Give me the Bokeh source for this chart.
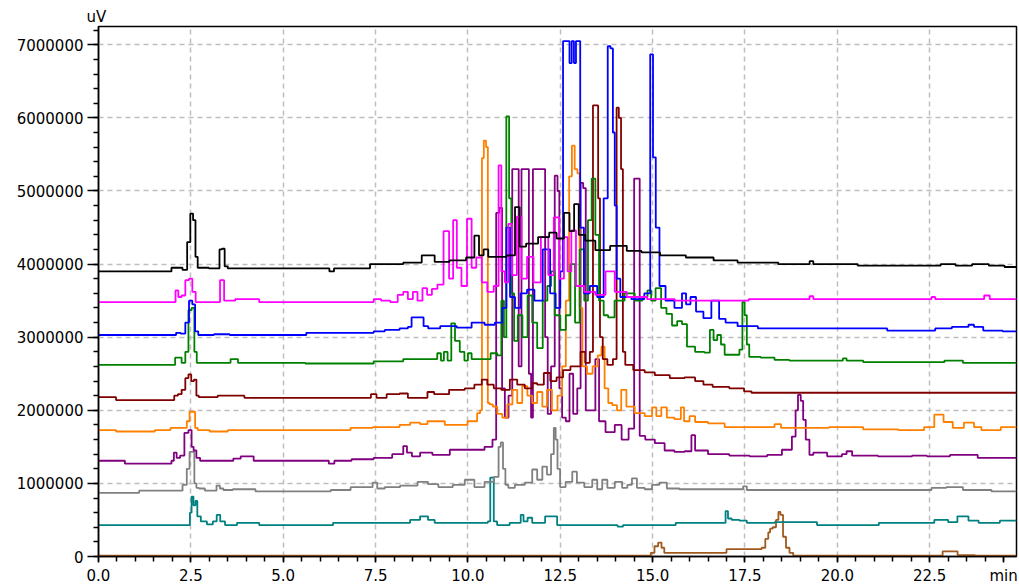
from bokeh.plotting import figure
from bokeh.models import (Range1d, SingleIntervalTicker, FixedTicker, PrintfTickFormatter, Title)
from bokeh.embed import file_html
from bokeh.resources import INLINE

# ---- chromatogram traces: retention time (min) and detector signal (uV) ----
black_min = [0.0, 1.9, 2.05, 2.2, 2.35, 2.45, 2.52, 2.6, 2.65, 2.72, 3.25, 3.3, 3.38, 3.45, 3.55,
             6.2, 6.3, 6.45, 7.3, 7.4, 8.0, 8.5, 9.0, 9.2, 9.8, 10.1, 10.25, 10.35, 10.5, 10.6,
             10.9, 11.2, 11.35, 11.45, 11.7, 12.1, 12.3, 12.5, 12.7, 12.8, 12.95, 13.05, 13.3,
             13.6, 14.1, 14.5, 14.9, 15.5, 16.3, 17.0, 17.6, 19.2, 19.3, 19.4, 21.7, 22.5, 23.1,
             23.3, 24.0, 24.2, 24.85]
black_uv = [3.90e6, 3.90e6, 3.95e6, 3.95e6, 3.92e6, 4.30e6, 4.69e6, 4.60e6, 4.10e6, 3.95e6, 3.94e6,
            4.20e6, 4.21e6, 3.97e6, 3.94e6, 3.94e6, 3.90e6, 3.94e6, 3.94e6, 4.00e6, 4.00e6, 4.02e6,
            4.12e6, 4.03e6, 4.05e6, 4.09e6, 4.39e6, 4.12e6, 4.20e6, 4.10e6, 4.10e6, 4.12e6, 4.78e6,
            4.24e6, 4.28e6, 4.37e6, 4.43e6, 4.35e6, 4.70e6, 4.45e6, 4.82e6, 4.40e6, 4.32e6, 4.19e6,
            4.25e6, 4.18e6, 4.16e6, 4.12e6, 4.09e6, 4.05e6, 4.02e6, 4.00e6, 4.04e6, 4.00e6, 3.98e6,
            3.98e6, 4.00e6, 3.98e6, 4.00e6, 3.98e6, 3.96e6]

magenta_min = [0.0, 2.05, 2.12, 2.2, 2.3, 2.4, 2.5, 2.58, 2.68, 3.28, 3.3, 3.38, 3.42, 3.6, 3.8,
               4.3, 4.4, 7.4, 7.5, 7.8, 8.0, 8.2, 8.3, 8.45, 8.57, 8.7, 8.84, 8.95, 9.1, 9.25,
               9.43, 9.55, 9.65, 9.75, 9.9, 10.05, 10.15, 10.3, 10.45, 10.6, 10.8, 10.86, 10.95,
               11.05, 11.14, 11.25, 11.4, 11.5, 11.7, 11.85, 12.1, 12.25, 12.4, 12.55, 12.65,
               12.75, 12.85, 13.0, 13.3, 13.6, 13.85, 14.1, 14.5, 15.2, 16.0, 19.2, 19.3, 19.4,
               22.5, 22.6, 22.7, 23.9, 24.05, 24.2, 24.85]
magenta_uv = [3.48e6, 3.48e6, 3.64e6, 3.55e6, 3.57e6, 3.78e6, 3.80e6, 3.62e6, 3.48e6, 3.48e6, 3.78e6,
              3.78e6, 3.50e6, 3.50e6, 3.52e6, 3.52e6, 3.48e6, 3.48e6, 3.52e6, 3.50e6, 3.48e6, 3.58e6,
              3.62e6, 3.52e6, 3.62e6, 3.50e6, 3.67e6, 3.58e6, 3.66e6, 3.72e6, 4.45e6, 3.80e6, 4.60e6,
              3.95e6, 3.70e6, 4.62e6, 3.95e6, 4.09e6, 3.75e6, 3.62e6, 3.70e6, 5.35e6, 3.90e6, 3.75e6,
              4.55e6, 3.85e6, 4.65e6, 3.80e6, 4.10e6, 3.75e6, 4.37e6, 3.85e6, 4.64e6, 3.80e6, 4.37e6,
              3.90e6, 4.46e6, 3.70e6, 3.62e6, 3.58e6, 3.90e6, 3.62e6, 3.55e6, 3.52e6, 3.50e6, 3.52e6,
              3.56e6, 3.52e6, 3.52e6, 3.55e6, 3.52e6, 3.52e6, 3.57e6, 3.52e6, 3.52e6]

blue_min = [0.0, 2.05, 2.15, 2.3, 2.4, 2.5, 2.58, 2.65, 2.75, 3.5, 3.6, 5.6, 5.65, 7.4, 7.5, 8.0,
            8.3, 8.45, 8.5, 8.75, 8.85, 9.0, 9.5, 9.9, 10.3, 10.6, 10.86, 11.0, 11.08, 11.2, 11.35,
            11.5, 11.7, 11.9, 12.15, 12.3, 12.45, 12.55, 12.6, 12.72, 12.78, 12.84, 12.9, 12.95,
            13.0, 13.08, 13.2, 13.4, 13.6, 13.75, 13.82, 13.9, 13.95, 14.0, 14.05, 14.2, 14.65,
            14.9, 14.97, 15.05, 15.12, 15.25, 15.45, 15.73, 15.86, 15.95, 16.1, 16.25, 16.5,
            16.68, 16.75, 16.85, 17.1, 17.5, 18.2, 21.3, 21.4, 22.6, 22.7, 23.5, 23.6, 23.8,
            24.1, 24.85]
blue_uv = [3.03e6, 3.03e6, 3.06e6, 3.05e6, 3.20e6, 3.50e6, 3.45e6, 3.08e6, 3.03e6, 3.04e6, 3.03e6,
           3.03e6, 3.06e6, 3.06e6, 3.08e6, 3.10e6, 3.12e6, 3.14e6, 3.27e6, 3.27e6, 3.15e6, 3.12e6,
           3.15e6, 3.13e6, 3.20e6, 3.17e6, 3.20e6, 3.40e6, 4.50e6, 3.55e6, 3.40e6, 3.60e6, 3.65e6,
           3.50e6, 4.20e6, 3.60e6, 3.40e6, 3.90e6, 7.05e6, 7.05e6, 6.75e6, 7.05e6, 6.75e6, 7.05e6,
           7.05e6, 4.50e6, 3.60e6, 3.70e6, 3.55e6, 4.90e6, 6.98e6, 6.95e6, 5.80e6, 4.80e6, 3.80e6,
           3.55e6, 3.52e6, 3.60e6, 6.87e6, 5.46e6, 4.50e6, 3.70e6, 3.50e6, 3.40e6, 3.60e6, 3.45e6,
           3.55e6, 3.35e6, 3.26e6, 3.50e6, 3.50e6, 3.25e6, 3.20e6, 3.15e6, 3.12e6, 3.12e6, 3.09e6,
           3.09e6, 3.12e6, 3.14e6, 3.17e6, 3.14e6, 3.09e6, 3.08e6]

green_min = [0.0, 2.05, 2.1, 2.2, 2.3, 2.4, 2.47, 2.57, 2.62, 2.7, 3.55, 3.6, 3.75, 3.8, 7.4, 7.5,
             8.0, 8.5, 9.1, 9.24, 9.3, 9.4, 9.5, 9.6, 9.7, 9.86, 9.95, 10.05, 10.15, 10.5, 10.73,
             10.86, 10.95, 11.0, 11.08, 11.15, 11.2, 11.3, 11.4, 11.55, 11.68, 11.8, 11.95, 12.1,
             12.2, 12.3, 12.4, 12.6, 12.7, 12.85, 12.95, 13.1, 13.2, 13.3, 13.4, 13.5, 13.6,
             13.75, 13.84, 14.1, 14.38, 14.65, 14.8, 14.92, 15.0, 15.16, 15.3, 15.45, 15.6, 15.73,
             15.86, 16.0, 16.3, 16.5, 16.6, 16.7, 16.8, 16.9, 17.0, 17.3, 17.4, 17.46, 17.52,
             17.58, 17.65, 18.2, 18.4, 19.0, 20.1, 20.2, 20.3, 21.1, 22.8, 23.0, 23.8, 24.85]
green_uv = [2.62e6, 2.62e6, 2.72e6, 2.72e6, 2.65e6, 2.80e6, 3.37e6, 3.40e6, 2.80e6, 2.65e6, 2.65e6,
            2.70e6, 2.70e6, 2.65e6, 2.64e6, 2.67e6, 2.67e6, 2.70e6, 2.70e6, 2.78e6, 2.68e6, 2.80e6,
            2.68e6, 3.19e6, 2.95e6, 2.80e6, 2.68e6, 2.78e6, 2.70e6, 2.70e6, 2.78e6, 2.75e6, 3.50e6,
            3.00e6, 6.02e6, 4.90e6, 3.60e6, 2.95e6, 3.30e6, 3.00e6, 3.57e6, 3.20e6, 2.85e6, 3.50e6,
            3.70e6, 3.90e6, 3.30e6, 3.10e6, 3.30e6, 4.00e6, 3.20e6, 4.20e6, 3.50e6, 4.60e6, 5.17e6,
            4.40e6, 3.50e6, 3.30e6, 3.27e6, 3.50e6, 3.60e6, 3.50e6, 3.55e6, 3.64e6, 3.50e6, 3.67e6,
            3.40e6, 3.32e6, 3.16e6, 3.22e6, 3.18e6, 2.87e6, 2.80e6, 2.79e6, 3.10e6, 2.96e6, 3.03e6,
            2.90e6, 2.76e6, 2.76e6, 2.83e6, 3.48e6, 3.30e6, 2.90e6, 2.73e6, 2.72e6, 2.69e6, 2.68e6,
            2.68e6, 2.71e6, 2.68e6, 2.66e6, 2.66e6, 2.68e6, 2.65e6, 2.65e6]

maroon_min = [0.0, 0.45, 0.5, 2.0, 2.1, 2.2, 2.3, 2.4, 2.47, 2.55, 2.62, 2.68, 2.75, 3.2, 3.25, 3.9,
              4.0, 7.3, 7.45, 7.6, 8.0, 8.3, 8.45, 8.84, 8.97, 9.2, 9.78, 10.05, 10.3, 10.45, 10.6,
              10.8, 11.0, 11.27, 11.4, 11.68, 11.8, 11.95, 12.16, 12.3, 12.5, 12.65, 12.9, 13.0,
              13.1, 13.25, 13.35, 13.42, 13.5, 13.55, 13.6, 13.7, 13.85, 14.0, 14.05, 14.12, 14.17,
              14.22, 14.3, 14.65, 14.92, 15.2, 15.73, 16.0, 16.3, 16.45, 16.8, 17.35, 17.6, 17.75,
              24.85]
maroon_uv = [2.18e6, 2.18e6, 2.14e6, 2.14e6, 2.20e6, 2.22e6, 2.28e6, 2.44e6, 2.49e6, 2.40e6, 2.42e6,
             2.20e6, 2.18e6, 2.18e6, 2.20e6, 2.20e6, 2.17e6, 2.17e6, 2.22e6, 2.17e6, 2.22e6, 2.23e6,
             2.17e6, 2.17e6, 2.25e6, 2.22e6, 2.28e6, 2.30e6, 2.35e6, 2.42e6, 2.35e6, 2.30e6, 2.28e6,
             2.42e6, 2.35e6, 2.30e6, 2.37e6, 2.35e6, 2.51e6, 2.40e6, 2.45e6, 2.55e6, 2.60e6, 2.60e6,
             2.80e6, 2.65e6, 2.80e6, 6.17e6, 6.17e6, 4.90e6, 3.00e6, 2.70e6, 2.62e6, 2.70e6, 6.14e6,
             6.00e6, 5.30e6, 2.80e6, 2.62e6, 2.55e6, 2.52e6, 2.48e6, 2.44e6, 2.45e6, 2.40e6, 2.35e6,
             2.32e6, 2.30e6, 2.26e6, 2.24e6, 2.24e6]

orange_min = [0.0, 0.45, 0.5, 1.5, 1.55, 2.35, 2.43, 2.5, 2.58, 2.65, 2.72, 3.3, 3.7, 6.8, 6.85,
              8.0, 8.3, 8.57, 8.84, 8.97, 9.78, 10.2, 10.3, 10.36, 10.4, 10.46, 10.52, 10.56, 10.62,
              10.73, 10.86, 11.0, 11.14, 11.27, 11.4, 11.54, 11.68, 11.8, 11.95, 12.08, 12.2, 12.35,
              12.5, 12.6, 12.7, 12.78, 12.85, 12.93, 13.0, 13.05, 13.15, 13.3, 13.45, 13.58, 13.65,
              13.75, 13.85, 13.97, 14.1, 14.2, 14.38, 14.65, 14.92, 15.05, 15.15, 15.32, 15.45,
              15.73, 15.8, 15.9, 16.1, 16.2, 16.8, 17.1, 18.2, 18.4, 18.55, 19.25, 20.3, 21.1, 22.2,
              22.5, 22.75, 23.0, 23.25, 23.6, 23.8, 24.0, 24.85]
orange_uv = [1.73e6, 1.73e6, 1.71e6, 1.71e6, 1.73e6, 1.76e6, 1.85e6, 1.98e6, 1.98e6, 1.76e6, 1.73e6,
             1.71e6, 1.73e6, 1.73e6, 1.76e6, 1.77e6, 1.80e6, 1.83e6, 1.81e6, 1.85e6, 1.80e6, 1.85e6,
             1.96e6, 2.00e6, 5.45e6, 5.69e6, 5.60e6, 2.10e6, 2.08e6, 2.05e6, 1.95e6, 1.90e6, 2.08e6,
             2.28e6, 2.10e6, 2.33e6, 2.20e6, 2.10e6, 2.25e6, 2.05e6, 2.28e6, 2.00e6, 2.20e6, 2.60e6,
             3.50e6, 5.20e6, 5.62e6, 5.30e6, 5.24e6, 3.40e6, 2.60e6, 2.50e6, 2.60e6, 2.75e6, 2.87e6,
             2.30e6, 2.10e6, 2.07e6, 2.00e6, 2.28e6, 2.05e6, 1.96e6, 1.92e6, 2.04e6, 1.92e6, 2.04e6,
             1.90e6, 1.88e6, 2.04e6, 1.85e6, 1.92e6, 1.84e6, 1.82e6, 1.77e6, 1.77e6, 1.81e6, 1.76e6,
             1.76e6, 1.77e6, 1.74e6, 1.73e6, 1.77e6, 1.94e6, 1.84e6, 1.76e6, 1.83e6, 1.77e6, 1.73e6,
             1.77e6]

purple_min = [0.0, 0.7, 0.73, 1.95, 2.0, 2.08, 2.15, 2.27, 2.38, 2.49, 2.55, 2.6, 2.7, 2.8, 3.6,
              3.7, 4.0, 4.4, 6.2, 6.27, 6.5, 7.2, 7.7, 8.2, 8.3, 8.4, 8.57, 8.84, 9.24, 9.78, 10.3,
              10.6, 10.73, 10.8, 10.9, 10.95, 11.05, 11.15, 11.25, 11.35, 11.4, 11.5, 11.62, 11.68,
              11.74, 11.78, 12.06, 12.12, 12.2, 12.3, 12.4, 12.45, 12.5, 12.6, 12.7, 12.8, 12.9,
              13.02, 13.08, 13.16, 13.22, 13.4, 13.5, 13.6, 13.85, 14.1, 14.22, 14.48, 14.52, 14.62,
              14.68, 14.92, 15.2, 15.45, 15.73, 16.0, 16.1, 16.2, 16.8, 17.35, 17.9, 18.3, 18.7,
              18.84, 18.9, 18.97, 19.05, 19.1, 19.19, 19.3, 19.4, 20.05, 20.2, 20.3, 20.5, 21.7,
              22.35, 22.5, 23.6, 24.0, 24.85]
purple_uv = [1.31e6, 1.31e6, 1.27e6, 1.27e6, 1.31e6, 1.42e6, 1.35e6, 1.38e6, 1.69e6, 1.73e6, 1.50e6,
             1.45e6, 1.35e6, 1.31e6, 1.31e6, 1.34e6, 1.37e6, 1.31e6, 1.31e6, 1.27e6, 1.31e6, 1.33e6,
             1.35e6, 1.40e6, 1.51e6, 1.42e6, 1.37e6, 1.42e6, 1.39e6, 1.46e6, 1.46e6, 1.50e6, 1.60e6,
             4.70e6, 4.77e6, 2.30e6, 1.90e6, 2.20e6, 5.30e6, 5.30e6, 2.60e6, 5.30e6, 5.30e6, 2.50e6,
             1.90e6, 5.30e6, 5.30e6, 3.00e6, 1.95e6, 2.60e6, 5.21e6, 5.00e6, 2.30e6, 1.90e6, 1.85e6,
             2.50e6, 1.95e6, 2.30e6, 5.11e6, 5.04e6, 2.00e6, 2.00e6, 2.70e6, 1.85e6, 1.70e6, 1.80e6,
             1.60e6, 1.75e6, 5.17e6, 5.17e6, 1.65e6, 1.60e6, 1.55e6, 1.45e6, 1.43e6, 1.44e6, 1.66e6,
             1.45e6, 1.40e6, 1.38e6, 1.37e6, 1.39e6, 1.46e6, 1.64e6, 2.00e6, 2.21e6, 2.13e6, 1.87e6,
             1.60e6, 1.39e6, 1.42e6, 1.37e6, 1.40e6, 1.44e6, 1.38e6, 1.37e6, 1.38e6, 1.37e6, 1.39e6,
             1.35e6, 1.35e6]

gray_min = [0.0, 2.2, 2.35, 2.43, 2.5, 2.57, 2.62, 2.68, 2.76, 3.0, 3.15, 3.24, 3.33, 3.43, 3.84,
            4.1, 4.4, 6.27, 6.3, 7.35, 7.49, 7.6, 7.9, 8.43, 8.84, 9.0, 9.4, 9.78, 10.05, 10.3,
            10.6, 10.8, 10.86, 10.92, 10.98, 11.05, 11.14, 11.4, 11.68, 11.8, 11.95, 12.08, 12.2,
            12.3, 12.35, 12.4, 12.45, 12.54, 12.75, 12.9, 13.0, 13.3, 13.43, 13.57, 13.7, 13.85,
            14.1, 14.25, 14.38, 14.5, 14.65, 14.92, 15.05, 15.32, 15.45, 16.0, 17.4, 17.5, 17.6,
            22.5, 22.6, 23.3, 23.5, 24.85]
gray_uv = [0.87e6, 0.90e6, 0.98e6, 1.20e6, 1.43e6, 1.43e6, 1.00e6, 0.94e6, 0.93e6, 0.90e6, 0.90e6,
           0.97e6, 0.93e6, 0.91e6, 0.92e6, 0.92e6, 0.89e6, 0.89e6, 0.91e6, 0.95e6, 1.01e6, 0.93e6,
           0.95e6, 0.97e6, 1.02e6, 0.99e6, 0.95e6, 0.98e6, 1.05e6, 0.95e6, 1.02e6, 1.09e6, 1.50e6,
           1.56e6, 1.20e6, 0.98e6, 0.94e6, 0.98e6, 1.01e6, 1.19e6, 1.05e6, 1.23e6, 1.12e6, 1.40e6,
           1.76e6, 1.60e6, 1.20e6, 0.95e6, 1.02e6, 1.16e6, 1.01e6, 0.95e6, 1.05e6, 0.92e6, 1.05e6,
           0.94e6, 1.02e6, 0.94e6, 0.98e6, 1.07e6, 0.94e6, 0.92e6, 0.98e6, 1.01e6, 0.93e6, 0.92e6,
           0.92e6, 0.96e6, 0.91e6, 0.91e6, 0.94e6, 0.95e6, 0.91e6, 0.89e6]

teal_min = [0.0, 2.45, 2.5, 2.54, 2.6, 2.65, 2.7, 2.84, 3.03, 3.16, 3.24, 3.35, 3.5, 4.0, 4.3, 4.4,
            8.3, 8.57, 8.84, 9.0, 9.2, 10.5, 10.58, 10.63, 10.68, 10.72, 10.86, 11.4, 11.46, 11.55,
            11.68, 11.8, 12.38, 12.45, 14.0, 14.1, 14.3, 16.95, 17.0, 17.08, 17.2, 17.5, 17.6,
            19.0, 19.9, 22.35, 22.9, 23.1, 23.4, 23.7, 23.95, 24.85]
teal_uv = [0.43e6, 0.43e6, 0.60e6, 0.82e6, 0.70e6, 0.76e6, 0.55e6, 0.48e6, 0.44e6, 0.48e6, 0.57e6,
           0.48e6, 0.43e6, 0.46e6, 0.46e6, 0.43e6, 0.46e6, 0.50e6, 0.55e6, 0.50e6, 0.46e6, 0.46e6,
           0.48e6, 1.08e6, 1.08e6, 0.48e6, 0.43e6, 0.46e6, 0.57e6, 0.48e6, 0.53e6, 0.46e6, 0.55e6,
           0.43e6, 0.43e6, 0.41e6, 0.43e6, 0.46e6, 0.62e6, 0.52e6, 0.50e6, 0.49e6, 0.46e6, 0.47e6,
           0.43e6, 0.46e6, 0.50e6, 0.47e6, 0.55e6, 0.49e6, 0.46e6, 0.49e6]

brown_min = [0.0, 14.9, 15.0, 15.1, 15.2, 15.28, 15.35, 16.95, 17.05, 17.9, 18.0, 18.1, 18.16, 18.2,
             18.3, 18.38, 18.43, 18.49, 18.57, 18.65, 18.76, 18.85, 22.8, 22.9, 23.16, 23.35, 23.7,
             23.75, 24.85]
brown_uv = [0.01e6, 0.01e6, 0.05e6, 0.14e6, 0.19e6, 0.12e6, 0.05e6, 0.05e6, 0.10e6, 0.10e6, 0.12e6,
            0.24e6, 0.33e6, 0.38e6, 0.40e6, 0.50e6, 0.61e6, 0.57e6, 0.27e6, 0.12e6, 0.05e6, 0.01e6,
            0.01e6, 0.07e6, 0.07e6, 0.02e6, 0.02e6, 0.01e6, 0.01e6]

# (times, signal, colour); black is painted last so it sits on top
traces = [
    (black_min, black_uv, "#000000"),
    (magenta_min, magenta_uv, "#FF00FF"),
    (blue_min, blue_uv, "#0000FF"),
    (green_min, green_uv, "#008000"),
    (maroon_min, maroon_uv, "#800000"),
    (orange_min, orange_uv, "#FF8000"),
    (purple_min, purple_uv, "#800080"),
    (gray_min, gray_uv, "#808080"),
    (teal_min, teal_uv, "#008080"),
    (brown_min, brown_uv, "#A05A1E"),
]

# time axis: labelled every 2.5 min, minor marks every 0.5 min, unit shown at 24.5
time_ticks = [0.0, 2.5, 5.0, 7.5, 10.0, 12.5, 15.0, 17.5, 20.0, 22.5]
time_unit_pos = 24.5
time_minor = [i * 0.5 for i in range(50)]

FONT = "DejaVu Sans"

p = figure(width=1019, height=587, output_backend="svg", toolbar_location=None,
           x_range=Range1d(0, 24.85), y_range=Range1d(0, 7.25e6),
           min_border_left=98, min_border_right=3, min_border_top=26, min_border_bottom=30)
p.background_fill_color = "white"
p.border_fill_color = "white"
p.outline_line_color = "black"
p.outline_line_width = 1.5

for t, v, c in reversed(traces[1:]):
    p.step(t, v, mode="center", line_color=c, line_width=1.8)
p.step(traces[0][0], traces[0][1], mode="center", line_color=traces[0][2], line_width=1.8)

# axes
p.xaxis.ticker = FixedTicker(ticks=time_ticks + [time_unit_pos], minor_ticks=time_minor)
p.xaxis.formatter = PrintfTickFormatter(format="%.1f")
p.xaxis.major_label_overrides = {time_unit_pos: "min"}
p.yaxis.ticker = SingleIntervalTicker(interval=1e6, num_minor_ticks=5)
p.yaxis.formatter = PrintfTickFormatter(format="%d")
for ax in (p.xaxis[0], p.yaxis[0]):
    ax.axis_line_color = "black"
    ax.axis_line_width = 1.5
    ax.major_tick_line_color = "black"
    ax.minor_tick_line_color = "black"
    ax.major_tick_line_width = 1.5
    ax.minor_tick_line_width = 1.5
    ax.major_tick_in = 0
    ax.minor_tick_in = 0
    ax.major_label_text_font = FONT
    ax.major_label_text_font_size = "15px"
    ax.major_label_text_color = "black"
p.yaxis.major_tick_out = 11
p.yaxis.minor_tick_out = 5
p.yaxis.major_label_standoff = 4
p.xaxis.major_tick_out = 6
p.xaxis.minor_tick_out = 5
p.xaxis.major_label_standoff = 4

# grid
p.xgrid.ticker = FixedTicker(ticks=time_ticks)
for g in (p.xgrid[0], p.ygrid[0]):
    g.grid_line_color = "#BEBEBE"
    g.grid_line_dash = "5 4"
    g.grid_line_width = 1.5

# signal unit above the y axis
p.add_layout(Title(text="uV", align="left", offset=-12, standoff=2,
                   text_font=FONT, text_font_size="15px", text_font_style="normal",
                   text_color="black"), "above")

open("out.html", "w").write(file_html(p, INLINE))
